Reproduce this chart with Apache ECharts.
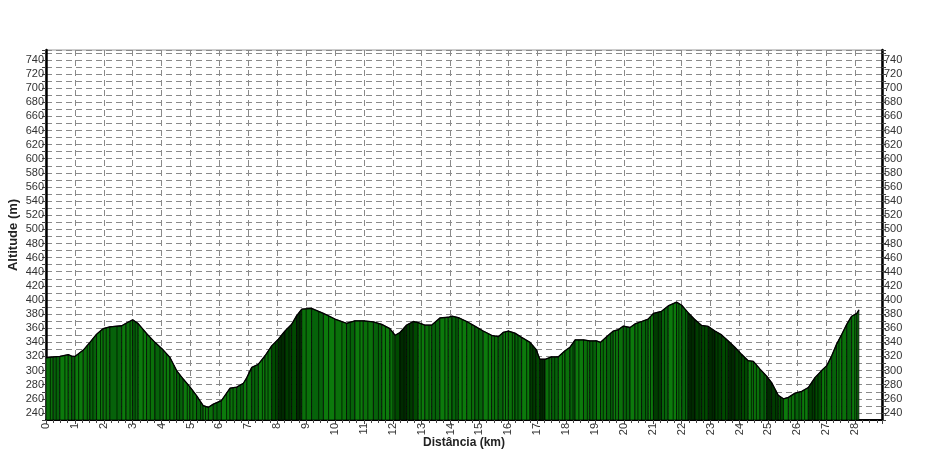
<!DOCTYPE html>
<html>
<head>
<meta charset="utf-8">
<script src="https://cdn.jsdelivr.net/npm/echarts@6/dist/echarts.min.js"></script>
<style>
html,body{margin:0;padding:0;background:#fff;}
#chart{width:937px;height:465px;}
</style>
</head>
<body>
<div id="chart"></div>
<script>
// Distance along the track (km)
const dist = [0, 0.25, 0.48, 0.77, 0.89, 1.0, 1.29, 1.52, 1.75, 1.98, 2.21, 2.62, 2.77, 3.0, 3.19, 3.48, 3.77, 4.06, 4.29, 4.52, 4.75, 4.98, 5.21, 5.44, 5.62, 5.79, 6.07, 6.37, 6.6, 6.83, 6.95, 7.12, 7.35, 7.58, 7.81, 8.04, 8.27, 8.5, 8.67, 8.85, 9.19, 9.6, 10.0, 10.4, 10.69, 10.98, 11.33, 11.62, 11.9, 12.08, 12.25, 12.48, 12.71, 12.88, 13.11, 13.35, 13.63, 13.92, 14.05, 14.27, 14.56, 14.84, 15.13, 15.42, 15.65, 15.82, 16.0, 16.23, 16.46, 16.75, 16.96, 17.09, 17.27, 17.5, 17.73, 17.96, 18.13, 18.31, 18.6, 18.82, 19.05, 19.19, 19.4, 19.63, 19.81, 19.98, 20.21, 20.38, 20.61, 20.84, 21.02, 21.3, 21.53, 21.82, 22.0, 22.22, 22.46, 22.69, 22.92, 23.15, 23.38, 23.61, 23.84, 24.07, 24.3, 24.48, 24.71, 24.94, 25.11, 25.34, 25.52, 25.69, 25.92, 26.15, 26.38, 26.61, 26.84, 27.02, 27.19, 27.36, 27.54, 27.71, 27.88, 28.06, 28.13];
// Altitude (m)
const alt = [318, 319.5, 320, 322.5, 320.5, 320, 329, 340, 351.5, 359.5, 362, 363.5, 367, 372, 366.5, 352.5, 340, 329, 318.5, 300, 288, 277, 264.5, 250.5, 248, 252.5, 257.5, 275, 276.5, 282, 290, 304.5, 309, 321, 335, 344.5, 356, 365.5, 377.5, 387, 388, 381, 373, 367, 370.5, 370.5, 369, 365.5, 359.5, 350, 354, 364.5, 369.5, 368, 364.5, 364.5, 374.5, 375.5, 377, 375, 369.5, 363, 356, 350, 348, 354, 356, 353, 347, 340, 330, 316, 316, 319.5, 319.5, 328, 333, 343.5, 343.5, 342, 342, 340, 348, 356, 358, 363, 361, 366, 369.5, 373, 381, 384, 391.5, 397, 392.5, 382, 372, 364, 362.5, 356, 350.5, 342, 333, 323, 314, 313, 302, 292, 283, 265, 260, 262, 268, 270.5, 276, 290, 300, 307, 321, 337.5, 351.5, 365.5, 377, 381, 386];
// Axis tick labels
const yLabels = [240, 260, 280, 300, 320, 340, 360, 380, 400, 420, 440, 460, 480, 500, 520, 540, 560, 580, 600, 620, 640, 660, 680, 700, 720, 740];
const xLabels = [0, 1, 2, 3, 4, 5, 6, 7, 8, 9, 10, 11, 12, 13, 14, 15, 16, 17, 18, 19, 20, 21, 22, 23, 24, 25, 26, 27, 28];

const Y_MIN = 230, Y_MAX = 754, X_MAX = 28.93;
const FONT = '"Liberation Sans", Arial, sans-serif';

// styling: zones rendered in darker shade
const darkZones = [[7.8, 8.9], [12.0, 12.9], [16.7, 17.3], [21.0, 21.4], [22.3, 24.3], [25.0, 25.6], [26.3, 26.8]];
const brightShades = ['#0a700a', '#06620a', '#0c7a0c'];
const darkShades = ['#003c00', '#004a00', '#002a00'];

function isDark(d) {
  return darkZones.some(z => d >= z[0] && d <= z[1]);
}

const chart = echarts.init(document.getElementById('chart'), null, {renderer: 'canvas'});

const yLabelSet = new Set(yLabels);
const xLabelSet = new Set(xLabels);

function yAxisCfg(pos) {
  return {
    type: 'value', position: pos, min: Y_MIN, max: Y_MAX, interval: 10,
    axisLine: {show: true, onZero: false, lineStyle: {color: '#000', width: 2.5}},
    axisTick: {show: true, length: 4, lineStyle: {color: '#444', width: 1}},
    axisLabel: {
      color: '#333', fontSize: 11, fontFamily: FONT, margin: 2,
      formatter: v => yLabelSet.has(v) ? String(v) : ''
    },
    splitLine: {show: pos === 'left', lineStyle: {color: '#8a8a8a', width: 1, type: [6, 4]}},
    name: pos === 'left' ? 'Altitude (m)' : '',
    nameLocation: 'middle', nameGap: 26, nameRotate: 90, nameMoveOverlap: false,
    nameTextStyle: {fontWeight: 'bold', fontSize: 13, fontFamily: FONT, color: '#222'}
  };
}

const option = {
  animation: false,
  backgroundColor: '#fff',
  grid: {left: 46, right: 55, top: 50, bottom: 45, containLabel: false, outerBoundsMode: 'none',
         show: true, borderColor: '#999', borderWidth: 1, backgroundColor: 'transparent'},
  xAxis: {
    type: 'value', min: 0, max: X_MAX, interval: 1,
    axisLine: {show: true, onZero: false, lineStyle: {color: '#000', width: 2}},
    axisTick: {show: true, length: 4, lineStyle: {color: '#444'}},
    minorTick: {show: true, splitNumber: 4, length: 3, lineStyle: {color: '#444'}},
    axisLabel: {
      rotate: 90, color: '#333', fontSize: 11, fontFamily: FONT, margin: 3,
      formatter: v => xLabelSet.has(v) ? String(v) : ''
    },
    splitLine: {show: true, lineStyle: {color: '#8a8a8a', width: 1, type: [6, 4]}},
    name: 'Distância (km)', nameLocation: 'middle', nameGap: 17, nameMoveOverlap: false,
    nameTextStyle: {fontWeight: 'bold', fontSize: 12, fontFamily: FONT, color: '#222'}
  },
  yAxis: [yAxisCfg('left'), yAxisCfg('right')],
  series: [
    {
      type: 'custom',
      data: dist.map((d, i) => [d, alt[i]]),
      clip: true,
      z: 2,
      renderItem: function (params, api) {
        const i = params.dataIndex;
        if (i >= dist.length - 1) return null;
        const p0 = api.coord([dist[i], alt[i]]);
        const p1 = api.coord([dist[i + 1], alt[i + 1]]);
        const b0 = api.coord([dist[i], Y_MIN]);
        const b1 = api.coord([dist[i + 1], Y_MIN]);
        const dark = isDark((dist[i] + dist[i + 1]) / 2);
        const shades = dark ? darkShades : brightShades;
        const children = [{
          type: 'polygon',
          shape: {points: [p0, p1, b1, b0]},
          style: {fill: shades[i % 3], stroke: '#000', lineWidth: 0.7}
        }];
        // extra stripe inside wider segments (rendering texture)
        const w = p1[0] - p0[0];
        if (w > 5) {
          const t = (i % 2) ? 0.45 : 0.6;
          const mx = p0[0] + w * t;
          const my = p0[1] + (p1[1] - p0[1]) * t;
          children.push({
            type: 'line',
            shape: {x1: mx, y1: my, x2: mx, y2: b0[1]},
            style: {stroke: dark ? '#001a00' : '#002800', lineWidth: 1}
          });
        }
        return {type: 'group', children: children};
      }
    },
    {
      type: 'line',
      data: dist.map((d, i) => [d, alt[i]]),
      showSymbol: false,
      symbol: 'none',
      z: 3,
      lineStyle: {color: '#000', width: 1.3},
      silent: true
    }
  ]
};
chart.setOption(option);
</script>
</body>
</html>
